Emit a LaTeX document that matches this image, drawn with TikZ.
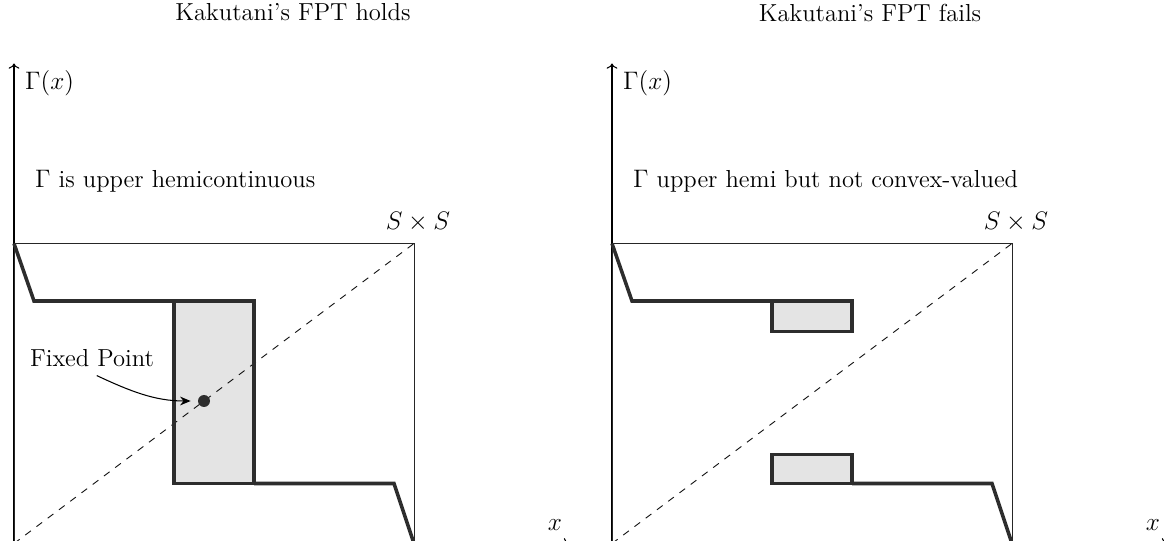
\documentclass[tikz,border=0pt]{standalone}
\usepackage{amsmath,amssymb}
\usepackage{tikz}
\usetikzlibrary{arrows.meta, positioning, calc}
\definecolor{graphline}{RGB}{45,45,45}
\definecolor{boxfill}{RGB}{228,228,228}

\tikzset{
  axis/.style={->, line width=0.6pt},
  frame/.style={line width=0.5pt, black!85},
  diag/.style={dash pattern=on 4pt off 4pt, line width=0.5pt},
  corr/.style={graphline, line width=2pt, line join=miter},
  corrbox/.style={corr, fill=boxfill},
  dotnode/.style={circle, fill=graphline, inner sep=0pt, minimum size=0.24cm},
}

\begin{document}
\begin{tikzpicture}[every node/.style={font=\fontsize{14}{16}\selectfont}]
  \useasboundingbox (-0.28,0.05) rectangle (23,10.87);

  % --- left panel: Kakutani holds
  \begin{scope}
    \coordinate (o1) at (0,0);
    \coordinate (ytip1) at (0,9.6);
    \coordinate (xtip1) at (11.1,0);
    \coordinate (c1) at (8,6);
    \draw[axis] (o1) -- (ytip1);
    \draw[axis] (o1) -- (xtip1);
    \node[right] (gam1) at (0.1,9.2) {$\Gamma(x)$};
    \node (xl1) at (10.82,0.36) {$x$};
    \node (ttl1) at (5.58,10.62) {Kakutani's FPT holds};
    \node[right] (prop1) at (0.3,7.24) {$\Gamma$ is upper hemicontinuous};
    \node (ss1) at (8.08,6.44) {$S\times S$};

    \fill[boxfill] (3.2,4.85) rectangle (4.8,1.2);
    \draw[frame] (o1) rectangle (c1);
    \draw[diag] (o1) -- (c1);
    \draw[corr] (0,6) -- (0.4,4.85) -- (3.2,4.85);
    \draw[corr] (3.2,4.85) rectangle (4.8,1.2);
    \draw[corr] (4.8,1.2) -- (7.6,1.2) -- (8,0);

    \node[dotnode] (fp) at (3.8,2.85) {};
    \node (fplbl) at (1.56,3.7) {Fixed Point};
    \draw[-{Stealth[length=6pt,width=5pt]}, line width=0.6pt, shorten <=3pt, shorten >=4pt]
      (fplbl.south) to[out=-25,in=180] (fp);
  \end{scope}

  % --- right panel: Kakutani fails
  \begin{scope}[xshift=11.96cm]
    \coordinate (o2) at (0,0);
    \coordinate (ytip2) at (0,9.6);
    \coordinate (xtip2) at (11.1,0);
    \coordinate (c2) at (8,6);
    \draw[axis] (o2) -- (ytip2);
    \draw[axis] (o2) -- (xtip2);
    \node[right] (gam2) at (0.1,9.2) {$\Gamma(x)$};
    \node (xl2) at (10.82,0.36) {$x$};
    \node (ttl2) at (5.16,10.62) {Kakutani's FPT fails};
    \node[right] (prop2) at (0.3,7.24) {$\Gamma$ upper hemi but not convex-valued};
    \node (ss2) at (8.08,6.44) {$S\times S$};

    \draw[frame] (o2) rectangle (c2);
    \draw[diag] (o2) -- (c2);
    \draw[corr] (0,6) -- (0.4,4.85) -- (3.2,4.85);
    \draw[corrbox] (3.2,4.85) rectangle (4.8,4.24);
    \draw[corrbox] (3.2,1.78) rectangle (4.8,1.2);
    \draw[corr] (4.8,1.2) -- (7.6,1.2) -- (8,0);
  \end{scope}
\end{tikzpicture}
\end{document}
